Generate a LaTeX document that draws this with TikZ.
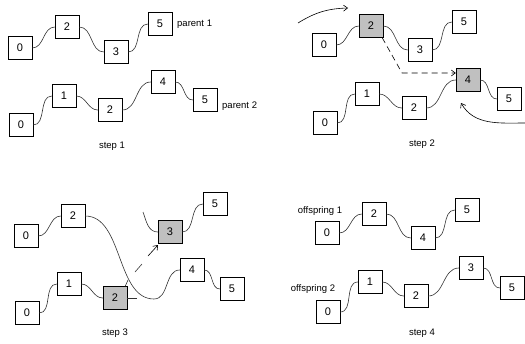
\documentclass[tikz,border=0pt]{standalone}
\usepackage{fontspec}
\setmainfont{Liberation Sans}
\usepackage{tikz}
\usetikzlibrary{arrows,arrows.meta,calc}

\definecolor{cutgray}{RGB}{192,192,192}
\definecolor{wire}{RGB}{50,50,50}

\tikzset{
    gene/.style={draw, fill=white, minimum width=24pt, minimum height=23pt, inner sep=0pt, font=\fontsize{11}{11}\selectfont},
    picked/.style={gene, fill=cutgray},
    link/.style={draw=wire, line width=0.6pt},
    tag/.style={font=\fontsize{9.5}{11}\selectfont, inner sep=0pt},
    mover/.style={draw=black, line width=0.6pt, -{Straight Barb[length=4pt,width=6pt]}}
}

\begin{document}
\begin{tikzpicture}[x=1pt,y=-1pt]
    \useasboundingbox (0,0) rectangle (525,343);

    % Step 1: the two parents
    \node[gene] (a0) at (20,48) {0};
    \node[gene] (a2) at (67,27) {2};
    \node[gene] (a3) at (116,52) {3};
    \node[gene] (a5) at (160,24) {5};
    \node[tag, anchor=west] (pa1) at (177,24) {parent 1};
    \node[gene] (b0) at (21,125) {0};
    \node[gene] (b1) at (64,96) {1};
    \node[gene] (b2) at (110,110) {2};
    \node[gene] (b4) at (163,82) {4};
    \node[gene] (b5) at (205,100) {5};
    \node[tag, anchor=west] (pa2) at (222,106) {parent 2};
    \node[tag] (st1) at (112,146) {step 1};
    \draw[link] (a0.east) to[out=0,in=180] (a2.west) (a2.east) to[out=0,in=180] (a3.west)
        (a3.east) to[out=0,in=180] (a5.west);
    \draw[link] (b0.east) to[out=0,in=180] (b1.west) (b1.east) to[out=0,in=180] (b2.west)
        (b2.east) to[out=0,in=180] (b4.west) (b4.east) to[out=0,in=180] (b5.west);

    % Step 2: pick the cut points
    \node[gene] (c0) at (324,45) {0};
    \node[picked] (c2) at (371,26) {2};
    \node[gene] (c3) at (420,50) {3};
    \node[gene] (c5) at (464,22) {5};
    \node[gene] (d0) at (325,123) {0};
    \node[gene] (d1) at (367,94) {1};
    \node[gene] (d2) at (414,108) {2};
    \node[picked] (d4) at (468,80) {4};
    \node[gene] (d5) at (509,99) {5};
    \node[tag] (st2) at (422,144) {step 2};
    \draw[link] (c0.east) to[out=0,in=180] (c2.west) (c2.east) to[out=0,in=180] (c3.west)
        (c3.east) to[out=0,in=180] (c5.west);
    \draw[link] (d0.east) to[out=0,in=180] (d1.west) (d1.east) to[out=0,in=180] (d2.west)
        (d2.east) to[out=0,in=180] (d4.west) (d4.east) to[out=0,in=180] (d5.west);
    \coordinate (inA) at (298,23);
    \coordinate (inB) at (348,8);
    \coordinate (inC) at (525,123);
    \coordinate (inD) at (461,103);
    \coordinate (jog) at (402,73);
    \draw[mover] (inA) to[bend left=15] (inB);
    \draw[mover] (inC) to[out=180,in=-60] (inD);
    \draw[mover, dash pattern=on 6pt off 4pt] ($(c2.south east)+(-1,0)$) -- (jog) -- (jog -| d4.west);

    % Step 3: cut and swap the tails
    \node[gene] (e0) at (26,236) {0};
    \node[gene] (e2) at (73,216) {2};
    \node[picked] (e3) at (170,232) {3};
    \node[gene] (e5) at (215,204) {5};
    \node[gene] (f0) at (27,313) {0};
    \node[gene] (f1) at (69,284) {1};
    \node[picked] (f2) at (115,298) {2};
    \node[gene] (f4) at (192,270) {4};
    \node[gene] (f5) at (232,289) {5};
    \node[tag] (st3) at (115,333) {step 3};
    \coordinate (dip) at (154,299);
    \coordinate (stubA) at (143,212);
    \coordinate (stubB) at (128,280);
    \coordinate (stubC) at (137,298);
    \coordinate (tickA) at (135,272);
    \coordinate (tickB) at (142,264);
    \coordinate (upA) at (148,256);
    \coordinate (upB) at (158,245);
    \draw[link] (e0.east) to[out=0,in=180] (e2.west) (e3.east) to[out=0,in=180] (e5.west);
    \draw[link] (e2.east) to[out=0,in=180,looseness=0.9] (dip) to[out=0,in=180] (f4.west);
    \draw[link] (f0.east) to[out=0,in=180] (f1.west) (f1.east) to[out=0,in=180] (f2.west)
        (f4.east) to[out=0,in=180] (f5.west);
    \draw[link] (stubA) to[out=-70,in=180] (e3.west);
    \draw[link] ($(f2.north east)+(-2,0)$) -- (stubB);
    \draw[link] (f2.east) -- (stubC);
    \draw[link] (tickA) -- (tickB);
    \draw[mover] (upA) -- (upB);

    % Step 4: the two offspring
    \node[tag] (of1) at (320,211) {offspring 1};
    \node[gene] (g0) at (327,233) {0};
    \node[gene] (g2) at (374,214) {2};
    \node[gene] (g4) at (423,238) {4};
    \node[gene] (g5) at (467,210) {5};
    \node[tag] (of2) at (313,289) {offspring 2};
    \node[gene] (h0) at (328,312) {0};
    \node[gene] (h1) at (370,282) {1};
    \node[gene] (h2) at (416,296) {2};
    \node[gene] (h3) at (471,268) {3};
    \node[gene] (h5) at (512,288) {5};
    \node[tag] (st4) at (422,333) {step 4};
    \draw[link] (g0.east) to[out=0,in=180] (g2.west) (g2.east) to[out=0,in=180] (g4.west)
        (g4.east) to[out=0,in=180] (g5.west);
    \draw[link] (h0.east) to[out=0,in=180] (h1.west) (h1.east) to[out=0,in=180] (h2.west)
        (h2.east) to[out=0,in=180] (h3.west) (h3.east) to[out=0,in=180] (h5.west);
\end{tikzpicture}
\end{document}
